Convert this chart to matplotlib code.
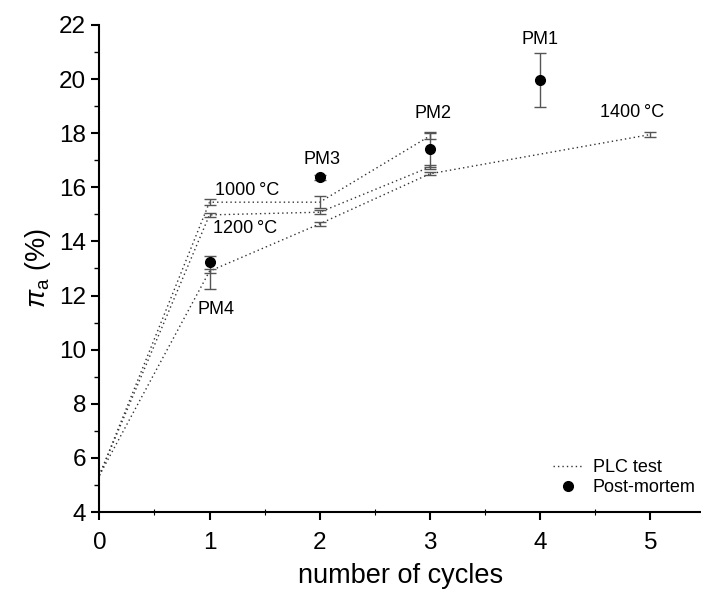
import matplotlib
matplotlib.use("Agg")

import matplotlib.pyplot as plt
from matplotlib.lines import Line2D
import numpy as np

plt.rcParams['font.family'] = ['Liberation Sans', 'DejaVu Sans']
plt.rcParams['mathtext.fontset'] = 'custom'
plt.rcParams['mathtext.rm'] = 'Liberation Sans'
plt.rcParams['mathtext.it'] = 'Liberation Sans:italic'

# PLC test curves (number of cycles vs pi_a)
x_1000 = [0, 1, 2, 3]
y_1000 = [5.35, 15.45, 15.45, 17.9]
e_1000 = [0, 0.1, 0.23, 0.12]

x_1200 = [0, 1, 2, 3]
y_1200 = [5.35, 14.98, 15.08, 16.75]
e_1200 = [0, 0.06, 0.07, 0.06]

x_1400 = [0, 1, 2, 3, 5]
y_1400 = [5.35, 12.9, 14.65, 16.5, 17.95]
e_1400 = [0, 0.08, 0.08, 0.06, 0.1]

# post-mortem samples
pm_labels = ["PM4", "PM3", "PM2", "PM1"]
pm_x = [1, 2, 3, 4]
pm_y = [13.25, 16.37, 17.4, 19.95]
pm_err_lo = [1.0, 0.1, 0.65, 1.0]
pm_err_hi = [0.2, 0.1, 0.65, 1.0]

fig = plt.figure(figsize=(7.01, 5.94), dpi=100)
ax = fig.add_axes([0.1417, 0.138, 0.8583, 0.820])

line_kw = dict(color="#333333", linestyle=(0, (1, 2.2)), linewidth=1.0)
err_kw = dict(fmt="none", ecolor="#555555", elinewidth=1.0, capsize=4, capthick=1.0)

for xs, ys, es in [(x_1000, y_1000, e_1000), (x_1200, y_1200, e_1200), (x_1400, y_1400, e_1400)]:
    ax.plot(xs, ys, **line_kw, zorder=2)
    ax.errorbar(xs[1:], ys[1:], yerr=es[1:], **err_kw, zorder=3)

ax.errorbar(pm_x, pm_y, yerr=[pm_err_lo, pm_err_hi], **err_kw, zorder=3)
ax.plot(pm_x, pm_y, "o", color="black", markersize=7, zorder=4)

# annotations
txt = dict(fontsize=13, ha="center", va="center")
label_pos = [(1.06, 11.49), (2.02, 17.04), (3.03, 18.74), (4.0, 21.45)]
for name, (lx, ly) in zip(pm_labels, label_pos):
    ax.text(lx, ly, name, **txt)
ax.text(1.05, 15.88, "1000\u2009\u00b0C", fontsize=13, ha="left", va="center")
ax.text(1.03, 14.46, "1200\u2009\u00b0C", fontsize=13, ha="left", va="center")
ax.text(4.83, 18.76, "1400\u2009\u00b0C", fontsize=13, ha="center", va="center")

ax.set_xlim(0, 5.46)
ax.set_ylim(4, 22)
ax.set_xticks([0, 1, 2, 3, 4, 5])
ax.set_xticks(np.arange(0.5, 5.5, 1.0), minor=True)
ax.set_yticks(np.arange(4, 23, 2))
ax.set_yticks(np.arange(5, 22, 2), minor=True)

for s in ["top", "right"]:
    ax.spines[s].set_visible(False)
for s in ["left", "bottom"]:
    ax.spines[s].set_linewidth(1.5)

ax.tick_params(which="major", direction="out", length=6, width=1.5, labelsize=17.5)
ax.tick_params(axis="x", which="major", pad=8.5)
ax.tick_params(which="minor", direction="out", length=3.5, width=1.0)
ax.tick_params(axis="x", which="minor", direction="inout", length=4, width=0.8)

ax.set_xlabel("number of cycles", fontsize=19.5, labelpad=6)
ax.set_ylabel(r"$\pi_{\mathrm{a}}$ (%)", fontsize=19.5, labelpad=4)

handles = [Line2D([], [], **line_kw),
           Line2D([], [], marker="o", linestyle="none", color="black", markersize=7)]
fig.legend(handles, ["PLC test", "Post-mortem"], loc="center left",
           bbox_to_anchor=(0.789, 0.196), frameon=False, fontsize=13,
           handlelength=1.7, handletextpad=0.5, labelspacing=0.15, borderpad=0,
           borderaxespad=0)

fig.savefig("out.png", dpi=100)
